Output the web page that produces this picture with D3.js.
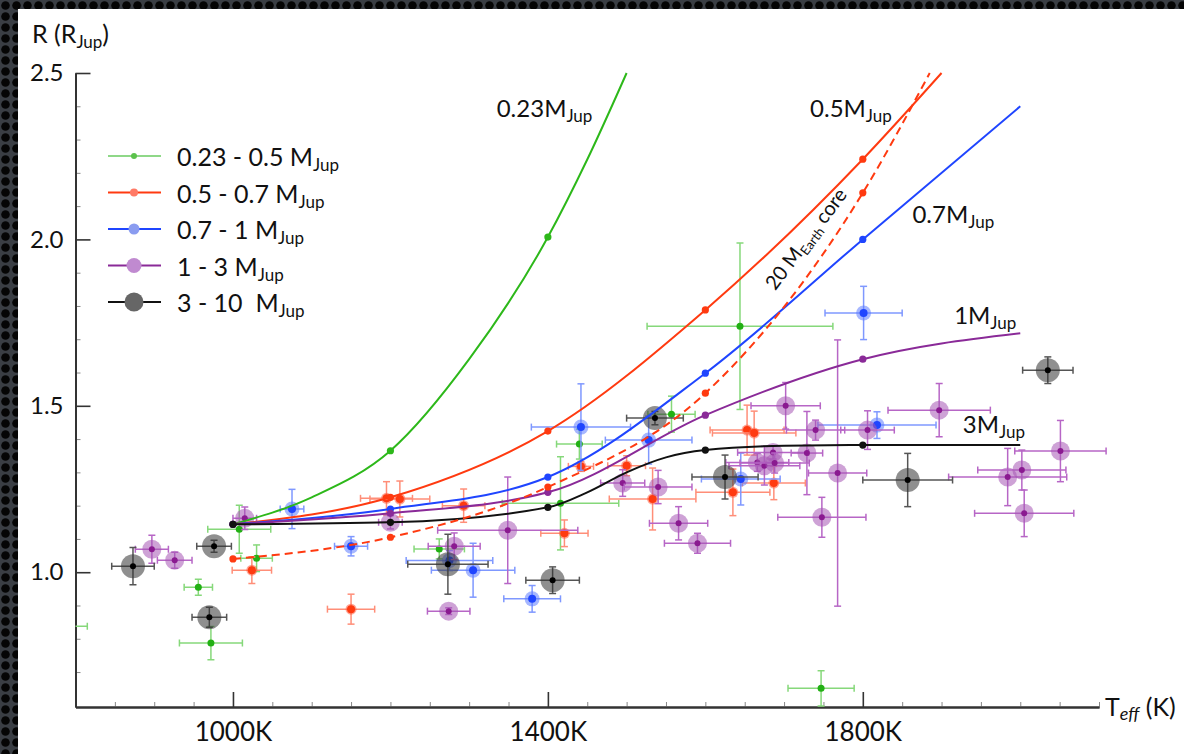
<!DOCTYPE html>
<html>
<head>
<meta charset="utf-8">
<script src="https://cdn.jsdelivr.net/npm/d3@7"></script>
<style>
  html, body { margin: 0; padding: 0; background: #111; }
  svg { display: block; font-family: Lato, 'Open Sans', sans-serif; }
</style>
</head>
<body>
<svg id="chart" width="1184" height="754"></svg>
<script>
// -------------------------------------------------------------------------
// Data

const tempTicks = [1000, 1400, 1800];
const radiusTicks = [1.0, 1.5, 2.0, 2.5];

// observed planets: [Teff, R, errTeff, errR]
const massLow = [
  [790, 0.838, 25, 0], [956, 0.955, 18, 0.024], [972, 0.787, 40, 0.05],
  [1008, 1.129, 40, 0.072], [1030, 1.042, 20, 0.04], [1262, 1.07, 32, 0.03],
  [1416, 1.207, 74, 0.14], [1440, 1.385, 29, 0.045], [1557, 1.475, 30, 0.054],
  [1644, 1.739, 118, 0.25], [1747, 0.651, 42, 0.053]
];
const massMid = [
  [1024, 1.006, 25, 0.04], [1150, 0.889, 30, 0.045], [1195, 1.222, 33, 0.05],
  [1212, 1.22, 38, 0.054], [1293, 1.2, 27, 0.05], [1421, 1.117, 30, 0.04],
  [1442, 1.318, 16, 0.015], [1500, 1.32, 24, 0.03], [1533, 1.22, 55, 0.093],
  [1635, 1.24, 47, 0.07], [1653, 1.427, 47, 0.075], [1662, 1.418, 53, 0.066],
  [1687, 1.268, 40, 0.05]
];
const massHigh = [
  [1075, 1.19, 15, 0.059], [1150, 1.078, 21, 0.029], [1275, 1.035, 55, 0.03],
  [1305, 1.006, 53, 0.081], [1380, 0.92, 36, 0.04], [1442, 1.436, 63, 0.13],
  [1528, 1.397, 55, 0.072], [1645, 1.28, 50, 0.078], [1801, 1.779, 49, 0.08],
  [1818, 1.442, 75, 0.04]
];
const massJup = [
  [897, 1.069, 21, 0.042], [926, 1.036, 22, 0.024], [1015, 1.162, 15, 0.034],
  [1200, 1.15, 15, 0.02], [1274, 0.883, 27, 0.01], [1281, 1.078, 33, 0.04],
  [1349, 1.126, 89, 0.16], [1495, 1.268, 28, 0.04], [1540, 1.256, 43, 0.05],
  [1566, 1.147, 37, 0.05], [1590, 1.087, 42, 0.03], [1666, 1.33, 40, 0.027],
  [1675, 1.32, 45, 0.058], [1686, 1.36, 45, 0.02], [1688, 1.328, 44, 0.03],
  [1702, 1.5, 44, 0.07], [1729, 1.358, 20, 0.125], [1740, 1.427, 37, 0.03],
  [1748, 1.165, 56, 0.06], [1768, 1.298, 37, 0.4], [1806, 1.427, 34, 0.058],
  [1897, 1.487, 65, 0.08], [1984, 1.286, 75, 0.086], [2002, 1.307, 56, 0.06],
  [2005, 1.177, 63, 0.07], [2051, 1.364, 58, 0.092]
];
const massSuper = [
  [873, 1.018, 27, 0.056], [970, 0.865, 22, 0.03], [976, 1.078, 22, 0.018],
  [1273, 1.024, 51, 0.09], [1406, 0.976, 34, 0.04], [1536, 1.463, 36, 0.02],
  [1625, 1.286, 42, 0.066], [1857, 1.277, 57, 0.08], [2035, 1.607, 32, 0.04]
];

// model tracks: [Teff, R]
const model023 = [[1000, 1.144], [1100, 1.225], [1200, 1.365], [1300, 1.64], [1400, 2.007], [1450, 2.24], [1500, 2.5]];
const model05 = [[1000, 1.144], [1200, 1.225], [1400, 1.424], [1600, 1.788], [1800, 2.241], [1900, 2.5]];
const model07 = [[1000, 1.144], [1200, 1.19], [1400, 1.286], [1600, 1.598], [1800, 2.0], [2000, 2.4]];
const model1 = [[1000, 1.144], [1200, 1.177], [1400, 1.24], [1600, 1.472], [1800, 1.64], [2000, 1.718]];
const model3 = [[1000, 1.144], [1200, 1.15], [1400, 1.195], [1450, 1.24], [1500, 1.3], [1550, 1.345], [1600, 1.367], [1700, 1.38], [1800, 1.382], [2000, 1.382]];
const modelCore = [[1000, 1.04], [1200, 1.105], [1400, 1.256], [1600, 1.538], [1800, 2.14], [1885, 2.5]];
const modelDotTemps = [1000, 1200, 1400, 1600, 1800];

const legendLabels = ['0.23 - 0.5 M', '0.5 - 0.7 M', '0.7 - 1 M', '1 - 3 M', '3 - 10  M'];

// -------------------------------------------------------------------------
// Styles

const groups = [
  { data: massLow, dot: '#22b014', bar: '#86d87a', halo: null, haloR: 0, dotR: 3.5, legendLine: '#8fd888', legendDot: '#5cc24c', legendR: 3 },
  { data: massMid, dot: '#ff3a10', bar: '#ff8e78', halo: '#ff5a3c', haloR: 5.5, dotR: 4, legendLine: '#ff3a10', legendDot: '#ff7a66', legendR: 4 },
  { data: massHigh, dot: '#1f45ff', bar: '#7f98ff', halo: '#5c7cff', haloR: 7.5, dotR: 4, legendLine: '#1f45ff', legendDot: '#8a9cf0', legendR: 5.5 },
  { data: massJup, dot: '#8a1a90', bar: '#b766c6', halo: '#a655b4', haloR: 9.5, dotR: 3, legendLine: '#8a2a98', legendDot: '#c08ad0', legendR: 7.5 },
  { data: massSuper, dot: '#000', bar: '#555', halo: '#333', haloR: 12, dotR: 3, legendLine: '#111', legendDot: '#666', legendR: 9.5 }
];

const models = [
  { data: model023, color: '#2db81a', dash: null },
  { data: model05, color: '#ff3a10', dash: null },
  { data: model07, color: '#1f45ff', dash: null },
  { data: model1, color: '#8a2a98', dash: null },
  { data: model3, color: '#111', dash: null },
  { data: modelCore, color: '#ff3a10', dash: '8,5' }
];

const modelLabels = [
  { t: 1335, r: 2.368, main: '0.23M' },
  { t: 1733, r: 2.368, main: '0.5M' },
  { t: 1863, r: 2.049, main: '0.7M' },
  { t: 1916, r: 1.745, main: '1M' },
  { t: 1927, r: 1.418, main: '3M' }
];

// -------------------------------------------------------------------------
// Chart

const svg = d3.select('#chart');
const x = d3.scaleLinear().domain([800, 2100]).range([75.5, 1099]);
const y = d3.scaleLinear().domain([0.595, 2.5]).range([707, 73]);

const defs = svg.append('defs');
const pat = defs.append('pattern')
  .attr('id', 'carbon')
  .attr('width', 11)
  .attr('height', 11)
  .attr('patternUnits', 'userSpaceOnUse');
pat.append('rect').attr('width', 11).attr('height', 11).attr('fill', '#3a3e44');
pat.append('circle').attr('cx', 5.5).attr('cy', 5.5).attr('r', 4.3).attr('fill', '#050505');

defs.append('clipPath').attr('id', 'plot-clip')
  .append('rect')
  .attr('x', x.range()[0])
  .attr('y', 20)
  .attr('width', x.range()[1] - x.range()[0] + 20)
  .attr('height', y.range()[0] - 20);

svg.append('rect').attr('width', 1184).attr('height', 754).attr('fill', 'url(#carbon)');
svg.append('rect').attr('x', 18).attr('y', 9).attr('width', 1166).attr('height', 745).attr('fill', '#fff');

// axes
const xMinor = d3.axisBottom(x)
  .tickValues(x.ticks(26).filter(t => t > 800 && !tempTicks.includes(t)))
  .tickSizeInner(-5).tickSizeOuter(0).tickFormat('');
const xMajor = d3.axisBottom(x)
  .tickValues(tempTicks)
  .tickSizeInner(-15).tickSizeOuter(0).tickPadding(16)
  .tickFormat(d => `${d}K`);
const yMinor = d3.axisLeft(y)
  .tickValues(y.ticks(19).filter(r => r > 0.65 && !radiusTicks.some(v => Math.abs(v - r) < 1e-6)))
  .tickSizeInner(-5).tickSizeOuter(0).tickFormat('');
const yMajor = d3.axisLeft(y)
  .tickValues(radiusTicks)
  .tickSizeInner(-15).tickSizeOuter(0).tickPadding(12)
  .tickFormat(d3.format('.1f'));

function styleAxis(g, minor) {
  g.select('.domain').attr('stroke', '#333').attr('stroke-width', 2);
  g.selectAll('.tick line').attr('stroke', minor ? '#888' : '#333').attr('stroke-width', minor ? 1 : 1.6);
  g.selectAll('.tick text').attr('fill', '#111').attr('font-family', 'Lato, sans-serif');
}

svg.append('g').attr('transform', `translate(0,${y.range()[0]})`).call(xMinor).call(g => styleAxis(g, true));
svg.append('g').attr('transform', `translate(0,${y.range()[0]})`).call(xMajor).call(g => styleAxis(g, false))
  .selectAll('.tick text').attr('font-size', 26);
svg.append('g').attr('transform', `translate(${x.range()[0]},0)`).call(yMinor).call(g => styleAxis(g, true));
svg.append('g').attr('transform', `translate(${x.range()[0]},0)`).call(yMajor).call(g => styleAxis(g, false))
  .selectAll('.tick text').attr('font-size', 24);

// axis titles
const rTitle = svg.append('text').attr('x', 32).attr('y', 43).attr('font-size', 25).attr('fill', '#111');
rTitle.append('tspan').text('R (R');
rTitle.append('tspan').attr('font-size', 17).attr('dy', 5).text('Jup');
rTitle.append('tspan').attr('dy', -5).text(')');

const tTitle = svg.append('text').attr('x', 1105).attr('y', 716).attr('font-size', 25).attr('fill', '#111');
tTitle.append('tspan').text('T');
tTitle.append('tspan').attr('font-size', 18).attr('font-style', 'italic').attr('dy', 4).text('eff');
tTitle.append('tspan').attr('dy', -4).text(' (K)');

// observed points
const pointsLayer = svg.append('g').attr('clip-path', 'url(#plot-clip)');
const cap = 3.5;
groups.forEach(grp => {
  const g = pointsLayer.append('g');
  const pts = g.selectAll('g.pt').data(grp.data).enter().append('g').attr('class', 'pt');
  pts.append('line')
    .attr('x1', d => x(d[0] - d[2])).attr('x2', d => x(d[0] + d[2]))
    .attr('y1', d => y(d[1])).attr('y2', d => y(d[1]));
  pts.append('line')
    .attr('x1', d => x(d[0] - d[2])).attr('x2', d => x(d[0] - d[2]))
    .attr('y1', d => y(d[1]) - cap).attr('y2', d => y(d[1]) + cap);
  pts.append('line')
    .attr('x1', d => x(d[0] + d[2])).attr('x2', d => x(d[0] + d[2]))
    .attr('y1', d => y(d[1]) - cap).attr('y2', d => y(d[1]) + cap);
  const vert = pts.filter(d => d[3] > 0);
  vert.append('line')
    .attr('x1', d => x(d[0])).attr('x2', d => x(d[0]))
    .attr('y1', d => y(d[1] - d[3])).attr('y2', d => y(d[1] + d[3]));
  vert.append('line')
    .attr('x1', d => x(d[0]) - cap).attr('x2', d => x(d[0]) + cap)
    .attr('y1', d => y(d[1] - d[3])).attr('y2', d => y(d[1] - d[3]));
  vert.append('line')
    .attr('x1', d => x(d[0]) - cap).attr('x2', d => x(d[0]) + cap)
    .attr('y1', d => y(d[1] + d[3])).attr('y2', d => y(d[1] + d[3]));
  pts.selectAll('line').attr('stroke', grp.bar).attr('stroke-width', 1.5);
  if (grp.halo) {
    pts.append('circle')
      .attr('cx', d => x(d[0])).attr('cy', d => y(d[1]))
      .attr('r', grp.haloR).attr('fill', grp.halo).attr('fill-opacity', 0.55);
  }
  pts.append('circle')
    .attr('cx', d => x(d[0])).attr('cy', d => y(d[1]))
    .attr('r', grp.dotR).attr('fill', grp.dot);
});

// model tracks
const line = d3.line().x(d => x(d[0])).y(d => y(d[1])).curve(d3.curveMonotoneX);
const modelLayer = svg.append('g');
models.forEach(m => {
  modelLayer.append('path')
    .attr('d', line(m.data))
    .attr('fill', 'none')
    .attr('stroke', m.color)
    .attr('stroke-width', 2)
    .attr('stroke-dasharray', m.dash);
  modelLayer.selectAll(null)
    .data(m.data.filter(d => modelDotTemps.includes(d[0])))
    .enter().append('circle')
    .attr('cx', d => x(d[0])).attr('cy', d => y(d[1]))
    .attr('r', 3.6).attr('fill', m.color);
});

// model labels
modelLabels.forEach(l => {
  const t = svg.append('text').attr('x', x(l.t)).attr('y', y(l.r)).attr('font-size', 24).attr('fill', '#111');
  t.append('tspan').text(l.main);
  t.append('tspan').attr('font-size', 17).attr('dy', 5).text('Jup');
});
const core = svg.append('text')
  .attr('transform', `translate(${x(1735)},${y(1.989)}) rotate(-53)`)
  .attr('text-anchor', 'middle').attr('font-size', 20).attr('fill', '#111');
core.append('tspan').text('20 M');
core.append('tspan').attr('font-size', 13).attr('dy', 4).text('Earth');
core.append('tspan').attr('dy', -4).text(' core');

// legend
const legend = svg.append('g').attr('transform', 'translate(108,156)');
const rows = legend.selectAll('g').data(groups).enter().append('g')
  .attr('transform', (d, i) => `translate(0,${i * 36.5})`);
rows.append('line').attr('x1', 0).attr('x2', 53).attr('y1', 0).attr('y2', 0)
  .attr('stroke', d => d.legendLine).attr('stroke-width', 2);
rows.append('circle').attr('cx', 26).attr('cy', 0).attr('r', d => d.legendR).attr('fill', d => d.legendDot);
const lt = rows.append('text').attr('x', 69).attr('y', 10).attr('font-size', 25).attr('fill', '#111')
  .style('white-space', 'pre');
lt.append('tspan').text((d, i) => legendLabels[i]);
lt.append('tspan').attr('font-size', 17).attr('dy', 5).text('Jup');
</script>
</body>
</html>
